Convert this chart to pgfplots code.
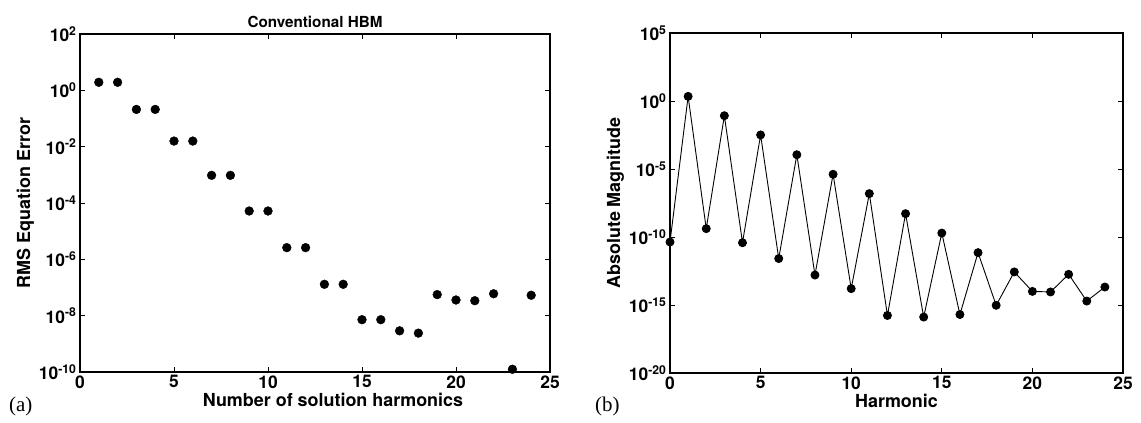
\documentclass[border=0pt]{standalone}
\usepackage{fontspec}
\setmainfont{TeX Gyre Heros}
\newfontfamily\timesfont{Liberation Serif}
\usepackage{pgfplots}
\pgfplotsset{compat=1.18}
\begin{document}
\begin{tikzpicture}
\useasboundingbox (0bp,0bp) rectangle (1141bp,423bp);
\pgfplotsset{every axis/.append style={
  scale only axis,
  tick style={black, line width=0.8bp},
  major tick length=5bp, minor tick length=0pt,
  tick align=inside,
  tick label style={font=\fontsize{17.5}{20}\selectfont\bfseries},
  label style={font=\fontsize{18}{21}\selectfont\bfseries},
  /pgf/number format/assume math mode=true,
  xmin=0, xmax=25, xtick={0,5,...,25},
  ymode=log,
  xlabel style={yshift=2bp},
  ylabel style={yshift=-2bp},
}}
\begin{axis}[at={(80bp,51bp)}, anchor=south west, width=470bp, height=338bp,
  axis line style={line width=1.6bp},
  ymin=1e-10, ymax=1e2,
  ytick={1e-10,1e-8,1e-6,1e-4,1e-2,1,1e2},
  yticklabels={10\textsuperscript{-10},10\textsuperscript{-8},10\textsuperscript{-6},10\textsuperscript{-4},10\textsuperscript{-2},10\textsuperscript{0},10\textsuperscript{2}},
  xlabel={Number of solution harmonics},
  xlabel style={xshift=18bp},
  ylabel={RMS Equation Error},
  title={Conventional HBM},
  title style={font=\fontsize{15.3}{17}\selectfont\bfseries, yshift=-3bp},
]
\addplot[only marks, mark=*, mark size=4.4bp, black] coordinates {
(1,1.93) (2,1.93) (3,0.21) (4,0.21) (5,0.0158) (6,0.0158)
(7,9.6e-4) (8,9.6e-4) (9,5.2e-5) (10,5.2e-5) (11,2.6e-6) (12,2.6e-6)
(13,1.3e-7) (14,1.3e-7) (15,7.2e-9) (16,7.2e-9) (17,2.9e-9) (18,2.4e-9)
(19,5.6e-8) (20,3.6e-8) (21,3.4e-8) (22,6.0e-8) (23,1.25e-10) (24,5.3e-8)
};
\end{axis}
\begin{axis}[at={(670bp,50bp)}, anchor=south west, width=453bp, height=340bp,
  axis line style={line width=1.3bp},
  ymin=1e-20, ymax=1e5,
  ytick={1e-20,1e-15,1e-10,1e-5,1,1e5},
  yticklabels={10\textsuperscript{-20},10\textsuperscript{-15},10\textsuperscript{-10},10\textsuperscript{-5},10\textsuperscript{0},10\textsuperscript{5}},
  xlabel={Harmonic},
  ylabel={Absolute Magnitude},
  clip=false,
]
\addplot[black, line width=0.9bp, mark=*, mark size=4.0bp, mark options={solid}] coordinates {
(0,4.3e-11) (1,2.19) (2,4.1e-10) (3,0.083) (4,3.8e-11) (5,3.2e-3)
(6,2.6e-12) (7,1.12e-4) (8,1.6e-13) (9,4.1e-6) (10,1.6e-14) (11,1.55e-7)
(12,1.7e-16) (13,5.2e-9) (14,1.3e-16) (15,1.95e-10) (16,2.0e-16) (17,7.1e-12)
(18,9.5e-16) (19,2.7e-13) (20,1.0e-14) (21,9.1e-15) (22,1.8e-13) (23,1.95e-15)
(24,2.1e-14)
};
\end{axis}
\node[font=\timesfont\fontsize{21}{23}\selectfont, anchor=west, inner sep=0pt] at (9bp,17bp) {(a)};
\node[font=\timesfont\fontsize{21}{23}\selectfont, anchor=west, inner sep=0pt] at (595bp,17bp) {(b)};
\end{tikzpicture}
\end{document}
